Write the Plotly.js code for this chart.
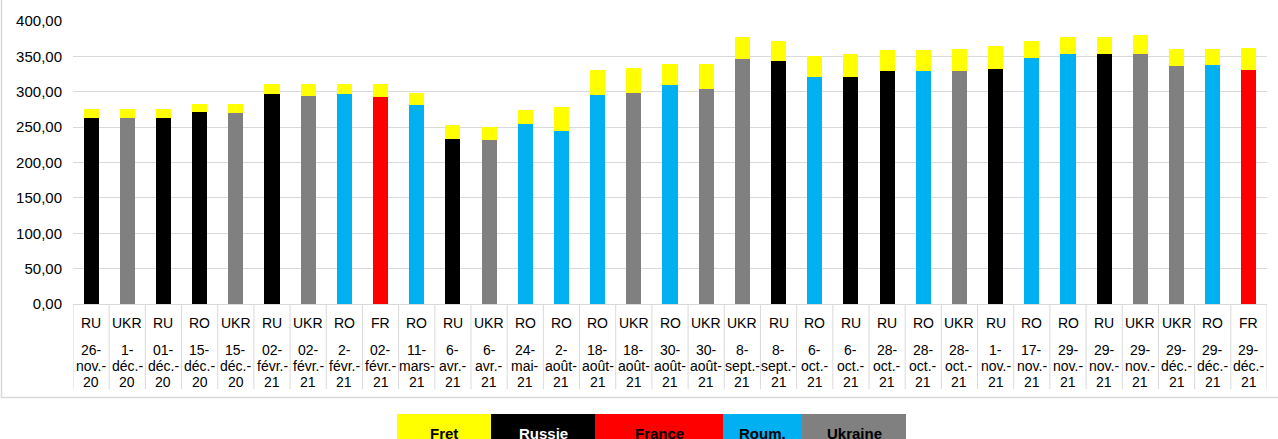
<!DOCTYPE html>
<html>
<head>
<meta charset="utf-8">
<script src="https://cdn.plot.ly/plotly-3.0.1.min.js"></script>
<style>html,body{margin:0;padding:0;background:#fff;}#chart{width:1278px;height:439px;}</style>
</head>
<body>
<div id="chart"></div>
<script>
// ---- Data ----
const countries = ["RU","UKR","RU","RO","UKR","RU","UKR","RO","FR","RO","RU","UKR","RO","RO","RO","UKR","RO","UKR","UKR","RU","RO","RU","RU","RO","UKR","RU","RO","RO","RU","UKR","UKR","RO","FR"];
const dates = ["26-nov.-20","1-déc.-20","01-déc.-20","15-déc.-20","15-déc.-20","02-févr.-21","02-févr.-21","2-févr.-21","02-févr.-21","11-mars-21","6-avr.-21","6-avr.-21","24-mai-21","2-août-21","18-août-21","18-août-21","30-août-21","30-août-21","8-sept.-21","8-sept.-21","6-oct.-21","6-oct.-21","28-oct.-21","28-oct.-21","28-oct.-21","1-nov.-21","17-nov.-21","29-nov.-21","29-nov.-21","29-nov.-21","29-déc.-21","29-déc.-21","29-déc.-21"];

const russie  = [262.5,null,262.5,271.4,null,296.4,null,null,null,null,233.2,null,null,null,null,null,null,null,null,343.5,null,320.8,328.9,null,null,332.2,null,null,353.4,null,null,null,null];
const france  = [null,null,null,null,null,null,null,null,292.6,null,null,null,null,null,null,null,null,null,null,null,null,null,null,null,null,null,null,null,null,null,null,null,330.7];
const roum    = [null,null,null,null,null,null,null,296.4,null,281.3,null,null,254.4,244.5,295.9,null,309.5,null,null,null,320.8,null,null,328.9,null,null,347.7,353.4,null,null,null,337.8,null];
const ukraine = [null,262.5,null,null,269.5,null,294.0,null,null,null,null,231.4,null,null,null,297.8,null,303.9,345.8,null,null,null,null,null,328.9,null,null,null,null,353.4,336.4,null,null];
const fret    = [13.1,13.1,13.1,11.7,13.6,14.6,17.0,14.6,18.4,16.5,19.4,18.8,19.4,34.4,34.4,36.2,30.2,35.8,31.6,28.2,30.2,32.6,30.1,30.1,31.5,32.5,24.0,24.0,24.0,26.4,24.0,22.6,31.6];

const legendNames = ["Fret","Russie","France","Roum.","Ukraine"];
const colors = {Fret:"#FFFF00", Russie:"#000000", France:"#FF0000", "Roum.":"#00B0F0", Ukraine:"#808080"};

// ---- Geometry helpers (pixel layout) ----
const W = 1278, H = 439;
const L = 73, R = 1267, T = 21, B = 304;
const pw = R - L, ph = B - T;
const py = p => (B - p) / ph;      // pixel y -> paper y
const pxp = p => (p - L) / pw;     // pixel x -> paper x

const xs = countries.map((_, i) => i);
const FONT = "Liberation Sans, Arial, sans-serif";

function barTrace(name, y) {
  return {type:"bar", name, x:xs, y, marker:{color:colors[name], line:{width:0}}, hoverinfo:"skip", showlegend:false};
}
const traces = [
  barTrace("Russie", russie),
  barTrace("France", france),
  barTrace("Roum.", roum),
  barTrace("Ukraine", ukraine),
  barTrace("Fret", fret)
];

const shapes = [];
const annotations = [];
const GRID = "#d9d9d9";

// category separators in the label table
for (let i = 0; i <= countries.length; i++) {
  shapes.push({type:"line", xref:"x", yref:"paper", x0:i-0.5, x1:i-0.5, y0:py(304), y1:py(389),
    line:{color:GRID, width:1}, layer:"below"});
}
// chart border (left & bottom)
shapes.push({type:"line", xref:"paper", yref:"paper", x0:pxp(1.5), x1:pxp(1.5), y0:py(-5), y1:py(397.5), line:{color:GRID, width:1.5}});
shapes.push({type:"line", xref:"paper", yref:"paper", x0:pxp(1), x1:pxp(1290), y0:py(397.5), y1:py(397.5), line:{color:GRID, width:1.5}});

// category labels
countries.forEach((c, i) => {
  annotations.push({xref:"x", yref:"paper", x:i, y:py(323), text:c, showarrow:false,
    font:{family:FONT, size:14, color:"#000"}, xanchor:"center", yanchor:"middle"});
  const parts = dates[i].split("-");
  const lines = [parts[0] + "-", parts[1] + "-", parts[2]];
  const ys = [350, 366, 382];
  lines.forEach((t, k) => {
    annotations.push({xref:"x", yref:"paper", x:i, y:py(ys[k]), text:t, showarrow:false,
      font:{family:FONT, size:14, color:"#000"}, xanchor:"center", yanchor:"middle"});
  });
});

// legend as coloured boxes with text inside
const legX = [397, 491, 595, 723, 802, 906];
legendNames.forEach((n, k) => {
  shapes.push({type:"rect", xref:"paper", yref:"paper", x0:pxp(legX[k]), x1:pxp(legX[k+1]),
    y0:py(414), y1:py(450), fillcolor:colors[n], line:{width:0}});
  annotations.push({xref:"paper", yref:"paper", x:pxp((legX[k]+legX[k+1])/2), y:py(433), text:"<b>"+n+"</b>",
    showarrow:false, font:{family:FONT, size:15, color: n === "Russie" ? "#ffffff" : "#000000"},
    xanchor:"center", yanchor:"middle"});
});

const layout = {
  width:W, height:H,
  margin:{l:L, r:W-R, t:T, b:H-B, pad:0},
  paper_bgcolor:"#ffffff", plot_bgcolor:"#ffffff",
  barmode:"stack", bargap:0.585,
  separators:", ",
  showlegend:false,
  xaxis:{range:[-0.5, countries.length-0.5], showticklabels:false, ticks:"", showgrid:false,
    zeroline:false, showline:true, linecolor:GRID, linewidth:1, fixedrange:true},
  yaxis:{range:[0,400], dtick:50, tick0:0, tickformat:".2f", showgrid:true, gridcolor:GRID, gridwidth:1,
    zeroline:false, showline:false, ticks:"", ticklabelstandoff:10,
    tickfont:{family:FONT, size:15, color:"#000"}, fixedrange:true},
  shapes, annotations
};

Plotly.newPlot("chart", traces, layout, {displayModeBar:false, staticPlot:true});
</script>
</body>
</html>
